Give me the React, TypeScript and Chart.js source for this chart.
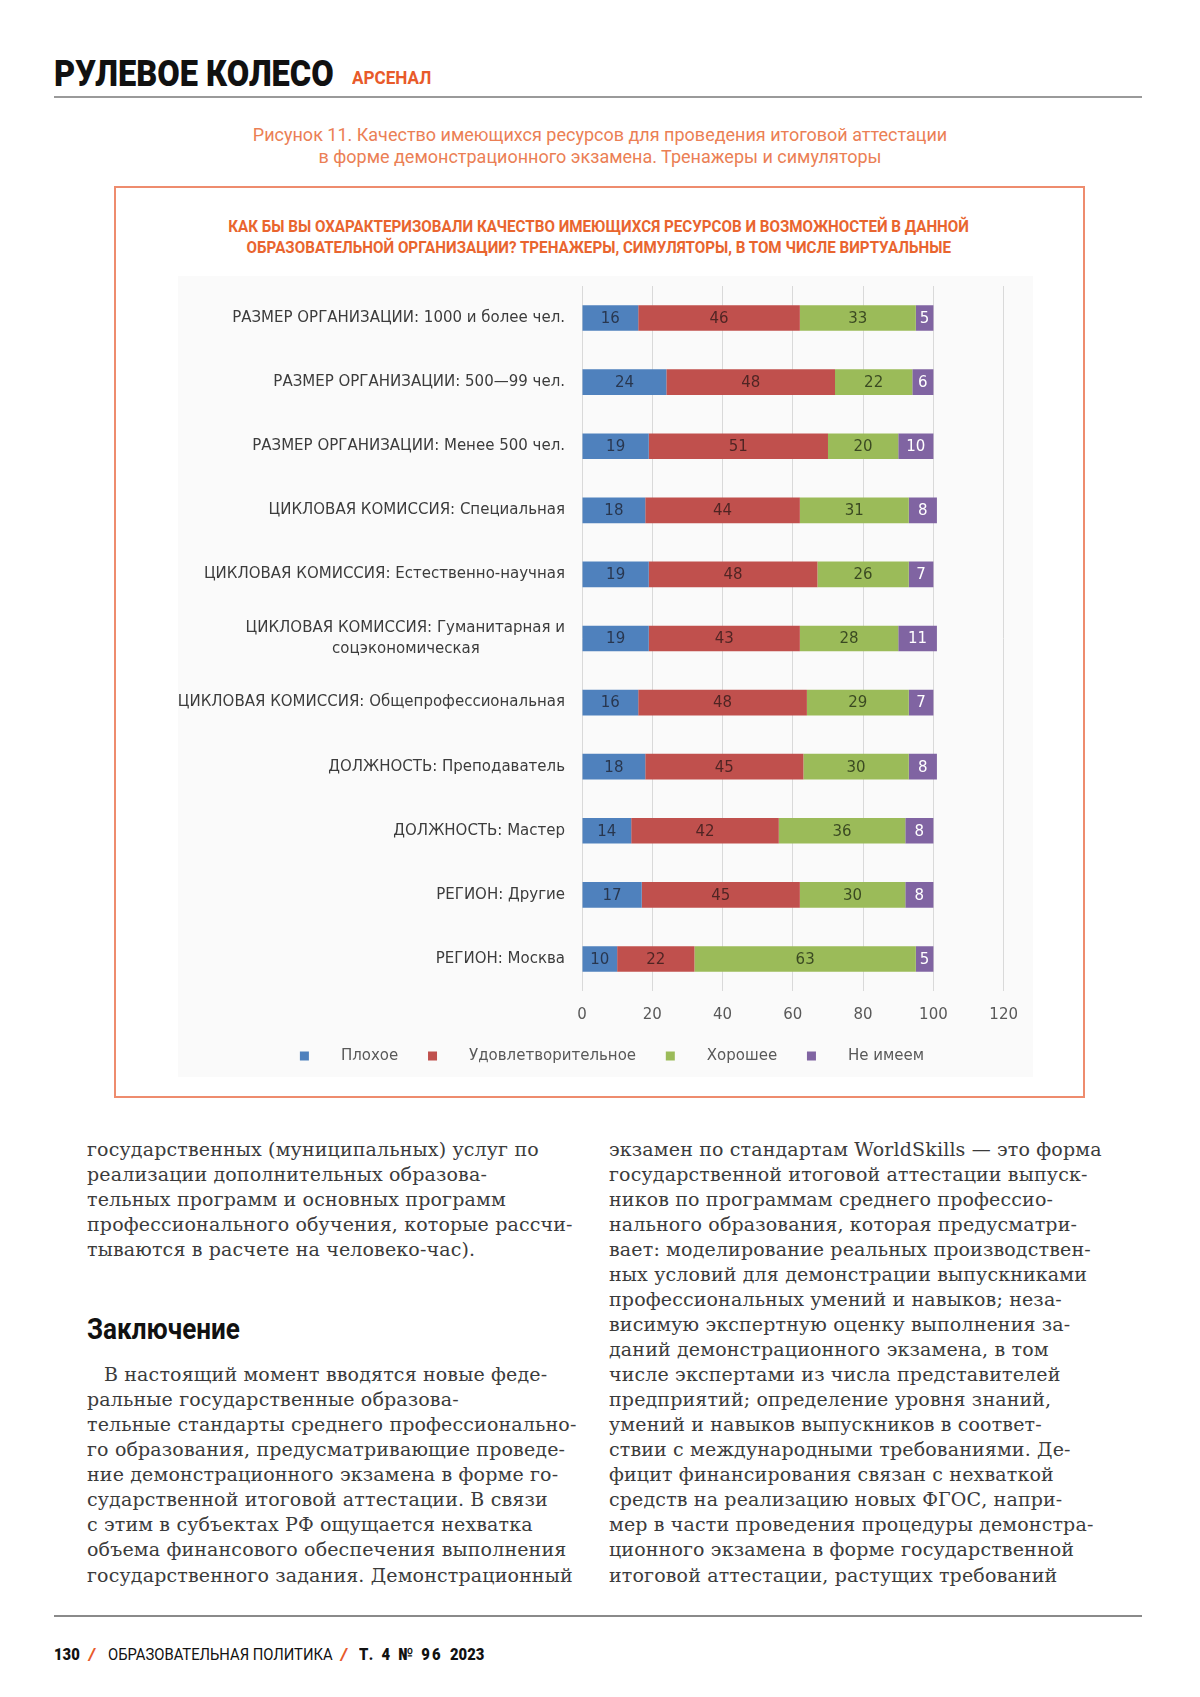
import React, { useEffect, useRef } from 'react';
import { Chart, registerables } from 'chart.js';

Chart.register(...registerables);

// ---------- DATA ----------
const categories: (string | string[])[] = [
  'РАЗМЕР ОРГАНИЗАЦИИ: 1000 и более чел.',
  'РАЗМЕР ОРГАНИЗАЦИИ: 500—99 чел.',
  'РАЗМЕР ОРГАНИЗАЦИИ: Менее 500 чел.',
  'ЦИКЛОВАЯ КОМИССИЯ: Специальная',
  'ЦИКЛОВАЯ КОМИССИЯ: Естественно-научная',
  ['ЦИКЛОВАЯ КОМИССИЯ: Гуманитарная и', 'соцэкономическая'],
  'ЦИКЛОВАЯ КОМИССИЯ: Общепрофессиональная',
  'ДОЛЖНОСТЬ: Преподаватель',
  'ДОЛЖНОСТЬ: Мастер',
  'РЕГИОН: Другие',
  'РЕГИОН: Москва',
];
const seriesNames = ['Плохое', 'Удовлетворительное', 'Хорошее', 'Не имеем'];
const badValues = [16, 24, 19, 18, 19, 19, 16, 18, 14, 17, 10];
const satisfactoryValues = [46, 48, 51, 44, 48, 43, 48, 45, 42, 45, 22];
const goodValues = [33, 22, 20, 31, 26, 28, 29, 30, 36, 30, 63];
const noneValues = [5, 6, 10, 8, 7, 11, 7, 8, 8, 8, 5];
const xMin = 0;
const xMax = 120;
const xStep = 20;

// ---------- STYLE ----------
const seriesColors = ['#4F81BD', '#C0504D', '#9BBB59', '#8064A2'];
const valueLabelColors = ['rgba(25,25,35,0.72)', 'rgba(35,20,20,0.72)', 'rgba(25,35,15,0.75)', '#FFFFFF'];
const CHART_FONT = "'DejaVu Sans', 'Open Sans', sans-serif";
const ORANGE = '#E9652F';

const leftLinesA = [
  'государственных (муниципальных) услуг по',
  'реализации дополнительных образова-',
  'тельных программ и основных программ',
  'профессионального обучения, которые рассчи-',
  'тываются в расчете на человеко-час).',
];
const leftLinesB = [
  'В настоящий момент вводятся новые феде-',
  'ральные государственные образова-',
  'тельные стандарты среднего профессионально-',
  'го образования, предусматривающие проведе-',
  'ние демонстрационного экзамена в форме го-',
  'сударственной итоговой аттестации. В связи',
  'с этим в субъектах РФ ощущается нехватка',
  'объема финансового обеспечения выполнения',
  'государственного задания. Демонстрационный',
];
const rightLines = [
  'экзамен по стандартам WorldSkills — это форма',
  'государственной итоговой аттестации выпуск-',
  'ников по программам среднего профессио-',
  'нального образования, которая предусматри-',
  'вает: моделирование реальных производствен-',
  'ных условий для демонстрации выпускниками',
  'профессиональных умений и навыков; неза-',
  'висимую экспертную оценку выполнения за-',
  'даний демонстрационного экзамена, в том',
  'числе экспертами из числа представителей',
  'предприятий; определение уровня знаний,',
  'умений и навыков выпускников в соответ-',
  'ствии с международными требованиями. Де-',
  'фицит финансирования связан с нехваткой',
  'средств на реализацию новых ФГОС, напри-',
  'мер в части проведения процедуры демонстра-',
  'ционного экзамена в форме государственной',
  'итоговой аттестации, растущих требований',
];

const valueLabelPlugin = {
  id: 'valueLabels',
  afterDatasetsDraw(chart: any) {
    const { ctx } = chart;
    ctx.save();
    ctx.font = `15px ${CHART_FONT}`;
    ctx.textAlign = 'center';
    ctx.textBaseline = 'middle';
    chart.data.datasets.forEach((ds: any, di: number) => {
      const meta = chart.getDatasetMeta(di);
      if (meta.hidden) return;
      meta.data.forEach((el: any, i: number) => {
        const { x, y, base } = el.getProps(['x', 'y', 'base'], true);
        ctx.fillStyle = valueLabelColors[di];
        ctx.fillText(String(ds.data[i]), (x + base) / 2, y + 1);
      });
    });
    ctx.restore();
  },
};

let measureCtx: CanvasRenderingContext2D | null = null;
function measure(text: string, font: string) {
  if (!measureCtx) measureCtx = document.createElement('canvas').getContext('2d');
  measureCtx!.font = font;
  return measureCtx!.measureText(text).width;
}

function tickLabel(index: number) {
  const l = categories[index];
  if (!Array.isArray(l)) return l;
  const font = `15px ${CHART_FONT}`;
  const w0 = measure(l[0], font);
  const out = [l[0]];
  for (let k = 1; k < l.length; k++) {
    const wk = measure(l[k], font);
    const hair = measure('\u200A', font) || 1;
    const n = Math.max(0, Math.round((w0 - wk) / 2 / hair));
    out.push(l[k] + '\u200A'.repeat(n));
  }
  return out;
}

function Line({ x, y, h = 25, style, children }: any) {
  return (
    <div
      style={{
        position: 'absolute',
        left: x,
        top: y - h / 2,
        height: h,
        lineHeight: `${h}px`,
        whiteSpace: 'nowrap',
        ...style,
      }}
    >
      {children}
    </div>
  );
}

function Centered({ y, cx, h, scale = 1, style, children }: any) {
  return (
    <div
      style={{
        position: 'absolute',
        left: cx - 600,
        width: 1200,
        top: y - h / 2,
        height: h,
        lineHeight: `${h}px`,
        textAlign: 'center',
        whiteSpace: 'nowrap',
      }}
    >
      <span style={{ display: 'inline-block', transform: `scaleX(${scale})`, transformOrigin: 'center', ...style }}>
        {children}
      </span>
    </div>
  );
}

const PAD_LEFT = 40;

export default function App() {
  const canvasRef = useRef<HTMLCanvasElement>(null);

  useEffect(() => {
    const datasets = [badValues, satisfactoryValues, goodValues, noneValues].map((vals, i) => ({
      label: seriesNames[i],
      data: vals,
      backgroundColor: seriesColors[i],
      borderWidth: 0,
      barPercentage: 0.4,
      categoryPercentage: 1,
    }));
    const chart = new Chart(canvasRef.current!, {
      type: 'bar',
      data: { labels: categories as any, datasets },
      options: {
        indexAxis: 'y',
        responsive: false,
        animation: false,
        layout: { padding: { top: 10, right: 27, bottom: 3.5, left: PAD_LEFT } },
        scales: {
          x: {
            stacked: true,
            min: xMin,
            max: xMax,
            ticks: {
              stepSize: xStep,
              padding: 15,
              color: '#595959',
              font: { family: CHART_FONT, size: 15 },
            },
            grid: { color: '#D9D9D9', lineWidth: 1, drawTicks: false },
            border: { display: false },
            afterFit: (s: any) => {
              s.height = 47.5;
            },
          },
          y: {
            stacked: true,
            ticks: {
              padding: 17,
              color: '#3C3C3C',
              font: { family: CHART_FONT, size: 15, lineHeight: 1.45 },
              autoSkip: false,
              callback: (_v: any, index: number) => tickLabel(index),
            },
            grid: { display: false, drawTicks: false },
            border: { display: false },
            afterFit: (s: any) => {
              s.width = 404 - PAD_LEFT;
              s.paddingTop = 0;
              s.paddingBottom = 0;
              // long category labels extend into the left layout padding: do not clip them
              s._computeLabelArea = () => undefined;
            },
          },
        },
        plugins: {
          legend: {
            position: 'bottom',
            labels: {
              boxWidth: 9,
              boxHeight: 9,
              padding: 10,
              color: '#595959',
              font: { family: CHART_FONT, size: 15 },
              generateLabels: (c: any) => {
                const items = (Chart.defaults.plugins.legend.labels as any).generateLabels(c);
                return items.map((l: any, i: number) => ({
                  ...l,
                  text: '\u2003  ' + l.text + (i < items.length - 1 ? '\u2003 ' : ''),
                  lineWidth: 0,
                }));
              },
            },
          },
          tooltip: { enabled: false },
          title: { display: false },
        },
      } as any,
      plugins: [valueLabelPlugin],
    });
    return () => chart.destroy();
  }, []);

  const bodyStyle = {
    fontFamily: "'DejaVu Serif', serif",
    fontSize: 19,
    letterSpacing: 0.15,
    color: '#3b3b3b',
  };
  const LH = 25.06;
  const footBase = {
    fontFamily: 'Roboto, sans-serif',
    fontSize: 17,
    color: '#111',
    transform: 'scaleX(0.87)',
    transformOrigin: 'left center',
  };
  const slash = { ...footBase, color: '#E85A2A', fontWeight: 900, fontStyle: 'italic', transform: 'none' };

  return (
    <div
      style={{
        position: 'absolute',
        left: 0,
        top: 0,
        width: 1200,
        height: 1697,
        background: '#FFFFFF',
        overflow: 'hidden',
      }}
    >
      {/* header */}
      <Line x={54} y={74} h={42} style={{ fontFamily: 'Roboto, sans-serif', fontWeight: 900, fontSize: 36, color: '#111', transform: 'scaleX(0.905)', transformOrigin: 'left center' }}>
        РУЛЕВОЕ КОЛЕСО
      </Line>
      <Line x={352} y={78} h={24} style={{ fontFamily: 'Roboto, sans-serif', fontWeight: 700, fontSize: 19, color: '#E85A2A', transform: 'scaleX(0.9)', transformOrigin: 'left center' }}>
        АРСЕНАЛ
      </Line>
      <div style={{ position: 'absolute', left: 54, top: 96, width: 1088, height: 2, background: '#9A9A9A' }} />

      {/* caption */}
      <Centered y={135} cx={600} h={22} scale={1} style={{ fontFamily: 'Roboto, sans-serif', fontSize: 18, color: '#EB7F55' }}>
        Рисунок 11. Качество имеющихся ресурсов для проведения итоговой аттестации
      </Centered>
      <Centered y={157} cx={600} h={22} scale={1} style={{ fontFamily: 'Roboto, sans-serif', fontSize: 18, color: '#EB7F55' }}>
        в форме демонстрационного экзамена. Тренажеры и симуляторы
      </Centered>

      {/* orange frame */}
      <div
        style={{
          position: 'absolute',
          left: 114,
          top: 186,
          width: 971,
          height: 912,
          border: '2px solid #EE8C6E',
          boxSizing: 'border-box',
        }}
      />
      <Centered y={227} cx={599} h={20} scale={0.92} style={{ fontFamily: 'Roboto, sans-serif', fontWeight: 700, fontSize: 16.5, color: ORANGE }}>
        КАК БЫ ВЫ ОХАРАКТЕРИЗОВАЛИ КАЧЕСТВО ИМЕЮЩИХСЯ РЕСУРСОВ И ВОЗМОЖНОСТЕЙ В ДАННОЙ
      </Centered>
      <Centered y={248} cx={599} h={20} scale={0.92} style={{ fontFamily: 'Roboto, sans-serif', fontWeight: 700, fontSize: 16.5, color: ORANGE }}>
        ОБРАЗОВАТЕЛЬНОЙ ОРГАНИЗАЦИИ? ТРЕНАЖЕРЫ, СИМУЛЯТОРЫ, В ТОМ ЧИСЛЕ ВИРТУАЛЬНЫЕ
      </Centered>

      {/* chart */}
      <div style={{ position: 'absolute', left: 178, top: 276, width: 855, height: 801, background: '#FAFAFA' }}>
        <canvas ref={canvasRef} width={855} height={801} style={{ display: 'block', width: 855, height: 801 }} />
      </div>

      {/* body text left */}
      {leftLinesA.map((t, i) => (
        <Line key={'la' + i} x={87} y={1149 + i * LH} h={25} style={bodyStyle}>
          {t}
        </Line>
      ))}
      <Line x={87} y={1329} h={36} style={{ fontFamily: 'Roboto, sans-serif', fontWeight: 700, fontSize: 30, color: '#111', transform: 'scaleX(0.87)', transformOrigin: 'left center' }}>
        Заключение
      </Line>
      {leftLinesB.map((t, i) => (
        <Line key={'lb' + i} x={i === 0 ? 104 : 87} y={1149 + (i + 9) * LH} h={25} style={bodyStyle}>
          {t}
        </Line>
      ))}

      {/* body text right */}
      {rightLines.map((t, i) => (
        <Line key={'r' + i} x={609} y={1149 + i * LH} h={25} style={bodyStyle}>
          {t}
        </Line>
      ))}

      {/* footer */}
      <div style={{ position: 'absolute', left: 54, top: 1615, width: 1088, height: 2, background: '#8A8A8A' }} />
      <Line x={54} y={1654} h={22} style={{ ...footBase, fontWeight: 900 }}>130</Line>
      <Line x={89} y={1654} h={22} style={slash}>/</Line>
      <Line x={108} y={1654} h={22} style={{ ...footBase, fontWeight: 400 }}>ОБРАЗОВАТЕЛЬНАЯ ПОЛИТИКА</Line>
      <Line x={341} y={1654} h={22} style={slash}>/</Line>
      <Line x={359} y={1654} h={22} style={{ ...footBase, fontWeight: 900, letterSpacing: 2.6 }}>Т. 4 № 96</Line>
      <Line x={450} y={1654} h={22} style={{ ...footBase, fontWeight: 900 }}>2023</Line>
    </div>
  );
}
